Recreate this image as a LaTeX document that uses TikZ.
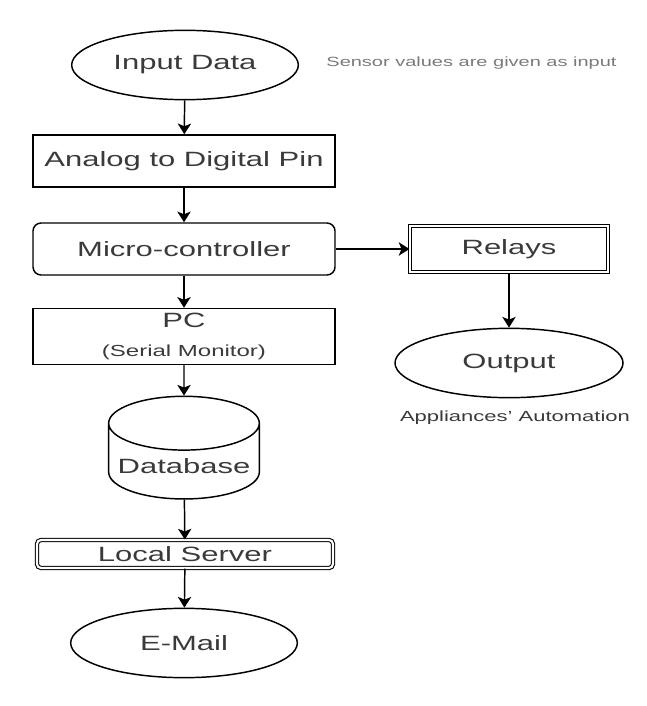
\documentclass[tikz,border=0pt]{standalone}
\usepackage{fontspec}
\setmainfont{Liberation Sans}[FakeStretch=1.5]
\usetikzlibrary{shapes.geometric,arrows.meta}
\definecolor{txtgray}{HTML}{3A3A3A}
\definecolor{notegray}{HTML}{7A7A7A}

\begin{document}
\begin{tikzpicture}[
    x=0.75pt, y=-0.75pt,
    every node/.style={text=txtgray, font=\fontsize{15.5}{18}\selectfont},
    box/.style={draw, line width=1.1pt, minimum width=226.5pt, minimum height=39pt, align=center},
    roundbox/.style={box, rounded corners=6pt},
    dbox/.style={draw, double, line width=0.8pt, double distance=1.6pt, align=center},
    oval/.style={draw, ellipse, line width=1.1pt, minimum width=170pt, minimum height=52pt},
    store/.style={draw, cylinder, shape border rotate=90, aspect=0.38, line width=1.1pt, minimum width=113pt, minimum height=77pt},
    note/.style={font=\fontsize{10}{12}\selectfont},
    arrow/.style={-{Stealth[length=8pt, width=10pt, inset=2pt]}, line width=1.1pt}
]
    \useasboundingbox (0,0) rectangle (646,706);

    \node[oval] (input) at (185,65) {Input Data};
    \node[box] (adc) at (184,161) {Analog to Digital Pin};
    \node[roundbox] (mcu) at (184,249) {Micro-controller};
    \node[box, minimum height=39.75pt] (pc) at (184,336.5) {PC\\[4pt]{\fontsize{12}{14}\selectfont (Serial Monitor)}};
    \node[store] (db) at (184,466) {Database};
    \node[dbox, rounded corners=3pt, minimum width=222pt, minimum height=21pt] (server) at (185,554) {Local Server};
    \node[oval] (email) at (184,643) {E-Mail};

    \node[dbox, minimum width=148.5pt, minimum height=35pt] (relays) at (509,249) {Relays};
    \node[oval, minimum width=171pt] (output) at (509,363) {Output};

    \node[note, text=notegray] (sensornote) at (471.5,63) {Sensor values are given as input};
    \node[note, font=\fontsize{11}{13}\selectfont] (autonote) at (515,418) {Appliances' Automation};

    \draw[arrow] (input) -- (adc);
    \draw[arrow] (adc) -- (mcu);
    \draw[arrow] (mcu) -- (pc);
    \draw[arrow] (pc) -- (db);
    \draw[arrow] (db) -- (server);
    \draw[arrow] (server) -- (email);
    \draw[arrow] (mcu) -- (relays);
    \draw[arrow] (relays) -- (output);
\end{tikzpicture}
\end{document}
